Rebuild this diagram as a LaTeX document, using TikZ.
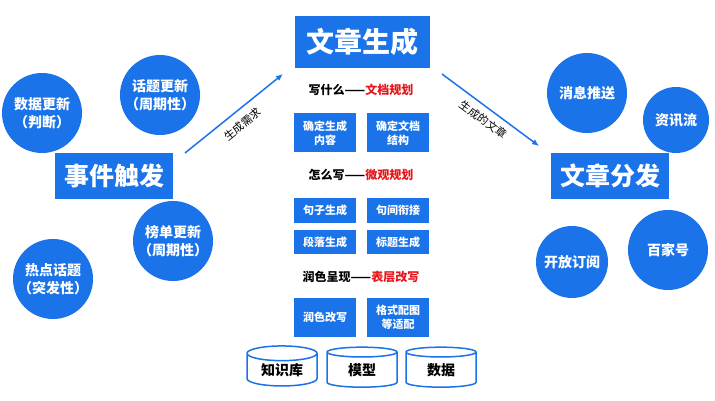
\documentclass[tikz,border=0pt]{standalone}
\usepackage{fontspec}
\setmainfont{Noto Sans CJK SC}
\usetikzlibrary{arrows.meta,shapes.geometric}

\definecolor{bblue}{RGB}{26,115,232}
\definecolor{rred}{RGB}{232,20,26}

\tikzset{
  bubble/.style={circle,fill=bblue,text=white,align=center,inner sep=0pt,
    minimum size=80pt,font=\bfseries\fontsize{14}{18}\selectfont},
  headbox/.style={fill=bblue,text=white,inner sep=0pt,minimum width=118pt,
    minimum height=45pt,font=\bfseries\fontsize{25}{30}\selectfont},
  taskbox/.style={fill=bblue,text=white,align=center,inner sep=0pt,
    minimum width=62pt,font=\bfseries\fontsize{11}{14}\selectfont},
  stagetext/.style={font=\bfseries\fontsize{12}{14}\selectfont},
  store/.style={cylinder,shape border rotate=90,aspect=0.35,draw=bblue,
    line width=1.5pt,fill=white,inner sep=0pt,minimum width=70pt,
    minimum height=40pt,font=\bfseries\fontsize{14}{17}\selectfont},
  flow/.style={draw=bblue,line width=1.5pt,-{Latex[length=7pt,width=6pt]}},
  flowtext/.style={font=\fontsize{11}{13}\selectfont,anchor=north,inner sep=6pt}
}

\begin{document}
\begin{tikzpicture}[x=1pt,y=-1pt]
  \useasboundingbox (0,0) rectangle (715,401);

  % event trigger side
  \node[headbox] (trigger) at (114,176) {事件触发};
  \node[bubble] (dataupd) at (42,113) {数据更新\\（判断）};
  \node[bubble] (topicupd) at (160,95) {话题更新\\（周期性）};
  \node[bubble] (rankupd) at (173,241) {榜单更新\\（周期性）};
  \node[bubble] (hottopic) at (53,279) {热点话题\\（突发性）};

  % article generation
  \node[headbox,minimum width=135pt,minimum height=52pt,
    font=\bfseries\fontsize{28}{32}\selectfont] (gen) at (362,42) {文章生成};
  \node[stagetext] (plan) at (361,90) {写什么——{\color{rred}文档规划}};
  \node[taskbox,minimum height=39pt] (content) at (325,133) {确定生成\\内容};
  \node[taskbox,minimum height=39pt] (struct) at (398,133) {确定文档\\结构};
  \node[stagetext] (micro) at (361,175) {怎么写——{\color{rred}微观规划}};
  \node[taskbox,minimum height=25pt] (sentgen) at (325,210) {句子生成};
  \node[taskbox,minimum height=25pt] (sentlink) at (398,210) {句间衔接};
  \node[taskbox,minimum height=24pt] (paragen) at (325,242) {段落生成};
  \node[taskbox,minimum height=24pt] (titlegen) at (398,242) {标题生成};
  \node[stagetext] (surface) at (361,277) {润色呈现——{\color{rred}表层改写}};
  \node[taskbox,minimum height=39pt] (polish) at (325,317) {润色改写};
  \node[taskbox,minimum height=39pt] (format) at (398,317) {格式配图\\等适配};

  % resources
  \node[store] (kb) at (282,370) {知识库};
  \node[store] (model) at (362,370) {模型};
  \node[store] (data) at (441,370) {数据};

  % article distribution
  \node[headbox] (dist) at (610,176) {文章分发};
  \node[bubble] (push) at (587,93) {消息推送};
  \node[bubble,minimum size=66pt] (feed) at (676,120) {资讯流};
  \node[bubble,minimum size=72pt] (opensub) at (572,262) {开放订阅};
  \node[bubble] (baijia) at (668,250) {百家号};

  % arrows
  \coordinate (req0) at (185,153);
  \coordinate (req1) at (283,74);
  \coordinate (out0) at (442,74);
  \coordinate (out1) at (539,146);
  \draw[flow] (req0) -- (req1)
    node[flowtext,midway,rotate=38.8,inner sep=8pt] {生成需求};
  \draw[flow] (out0) -- (out1)
    node[flowtext,midway,rotate=-36.6] {生成的文章};
\end{tikzpicture}
\end{document}
